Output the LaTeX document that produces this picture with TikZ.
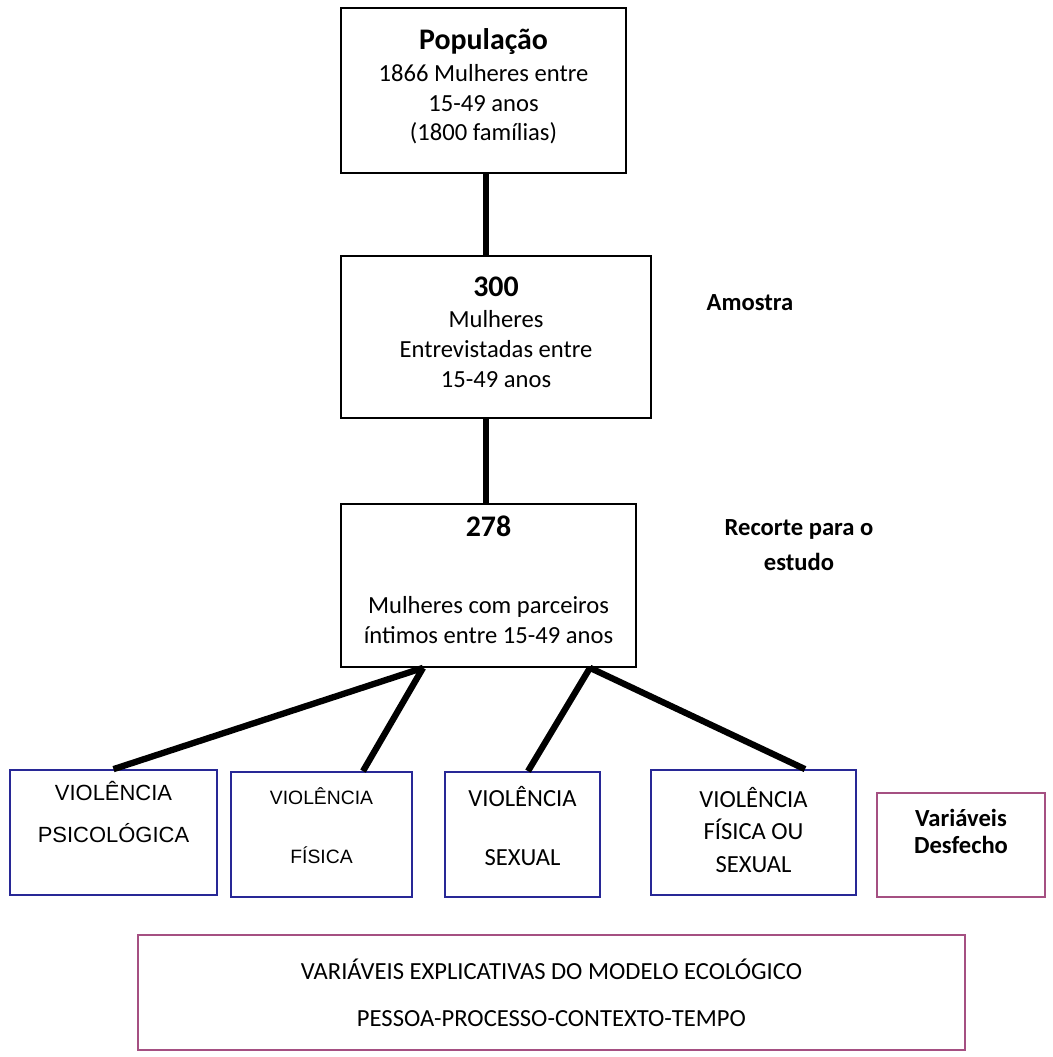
\documentclass[tikz,border=0pt]{standalone}
\usepackage{fontspec}
\setmainfont{Carlito}
\newfontfamily\arialfont{Liberation Sans}
\usetikzlibrary{positioning}

\definecolor{boxblue}{RGB}{40,40,150}
\definecolor{boxpurple}{RGB}{165,80,130}

\begin{document}
\begin{tikzpicture}[
        x=0.02cm, y=-0.02cm,
        mainbox/.style={draw, line width=1pt, inner sep=0pt},
        maintext/.style={inner sep=0pt, align=center, font=\fontsize{14}{17}\selectfont},
        vbox/.style={draw=boxblue, line width=1pt, inner sep=0pt, minimum height=2.5cm},
        pbox/.style={draw=boxpurple, line width=1pt, inner sep=0pt, align=center},
        vtext/.style={inner sep=0pt, align=center},
        sidetext/.style={inner sep=0pt, align=center, font=\fontsize{14}{20}\selectfont\bfseries},
        link/.style={line width=3.6pt}
    ]
    \useasboundingbox (0,0) rectangle (1053,1057);
    \def\head#1{{\fontsize{17}{20}\selectfont\bfseries #1}}

    % upper chain
    \node[mainbox, minimum width=5.7cm, minimum height=3.3cm] (pop) at (483.5,90.5) {};
    \node[mainbox, minimum width=6.2cm, minimum height=3.24cm] (amo) at (496,337) {};
    \node[mainbox, minimum width=5.9cm, minimum height=3.26cm] (rec) at (488.5,585.5) {};

    \node[maintext] (poptxt) at (483.5,86.5)
        {\head{População}\\[1pt] 1866 Mulheres entre\\ 15-49 anos\\ (1800 famílias)};
    \node[maintext] (amotxt) at (496,332)
        {\head{300}\\[1pt] Mulheres\\ Entrevistadas entre\\ 15-49 anos};
    \node[maintext] (rectxt) at (488.5,580)
        {\head{278}\\[27pt] Mulheres com parceiros\\ íntimos entre 15-49 anos};

    \node[sidetext] (amolbl) at (750,303) {Amostra};
    \node[sidetext] (reclbl) at (799,545) {Recorte para o\\ estudo};

    \draw[link] (pop.south -| 486,0) -- (amo.north -| 486,0);
    \draw[link] (amo.south -| 486,0) -- (rec.north -| 486,0);

    % outcome boxes
    \node[vbox, minimum width=4.14cm] (psi) at (113.5,832.5) {};
    \node[vbox, minimum width=3.62cm] (fis) at (321.5,834.5) {};
    \node[vbox, minimum width=3.1cm] (sex) at (522.5,834.5) {};
    \node[vbox, minimum width=4.1cm] (fou) at (753.5,832.5) {};
    \node[pbox, minimum width=3.36cm, minimum height=2.08cm] (des) at (961,845) {};

    \node[vtext, font=\arialfont\fontsize{12.5}{23.8}\selectfont] (psitxt) at (113.5,812) {VIOLÊNCIA\\ PSICOLÓGICA};
    \node[vtext, font=\arialfont\fontsize{11}{33.5}\selectfont] (fistxt) at (321.5,826) {VIOLÊNCIA\\ FÍSICA};
    \node[vtext, font=\fontsize{14}{33.5}\selectfont] (sextxt) at (522.5,826) {VIOLÊNCIA\\ SEXUAL};
    \node[vtext, font=\fontsize{14}{18.7}\selectfont] (foutxt) at (753.5,830) {VIOLÊNCIA\\ FÍSICA OU\\ SEXUAL};
    \node[vtext, font=\fontsize{14}{15.3}\selectfont\bfseries] (destxt) at (961,831.5) {Variáveis\\ Desfecho};

    \coordinate (recL) at ([xshift=-1.31cm]rec.south);
    \coordinate (recR) at ([xshift=2.03cm]rec.south);
    \draw[link] (recL) -- (psi.north);
    \draw[link] (recL) -- ([xshift=0.83cm]fis.north);
    \draw[link] (recR) -- ([xshift=0.11cm]sex.north);
    \draw[link] (recR) -- ([xshift=1.03cm]fou.north);

    % explanatory variables
    \node[pbox, minimum width=16.54cm, minimum height=2.3cm, font=\fontsize{14}{26.6}\selectfont] (exp) at (551.5,992.5)
        {VARIÁVEIS EXPLICATIVAS DO MODELO ECOLÓGICO\\ PESSOA-PROCESSO-CONTEXTO-TEMPO};
\end{tikzpicture}
\end{document}
